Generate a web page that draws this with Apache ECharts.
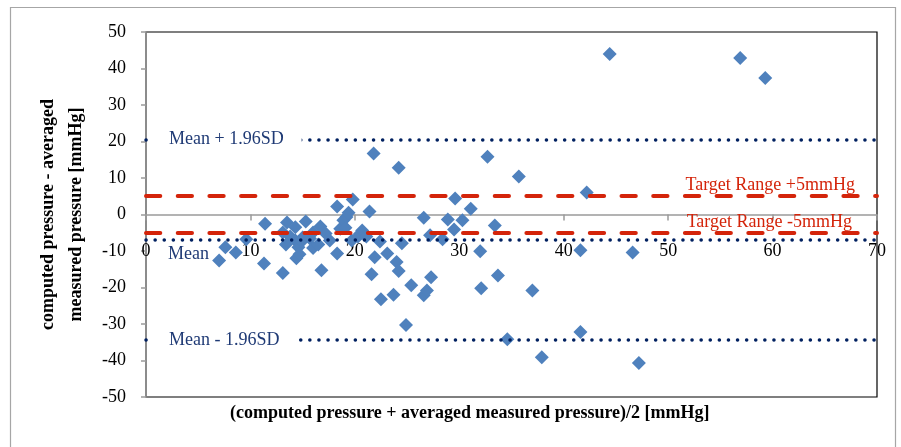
<!DOCTYPE html>
<html>
<head>
<meta charset="utf-8">
<script src="https://cdn.jsdelivr.net/npm/echarts@6/dist/echarts.min.js"></script>
<style>
  html, body { margin: 0; padding: 0; background: #fff; }
  #chart { width: 901px; height: 447px; }
</style>
</head>
<body>
<div id="chart"></div>
<script>
// Bland-Altman data: mean of the two pressures (x) and their difference (y), mmHg
const meanPressure = [
  7.0, 7.6, 8.6, 9.6, 11.4, 11.3, 13.1,
  13.5, 13.1, 13.8, 13.4, 14.3, 14.6, 14.9, 14.4, 14.7, 14.3, 15.3, 15.0, 15.7, 16.0, 16.0, 16.5, 16.7, 16.8, 17.2, 17.6,
  18.3, 18.3, 18.6, 18.9, 19.1, 19.2, 19.4, 19.7, 19.8, 20.3, 20.5, 20.7, 21.1, 21.4, 21.8, 21.6, 21.9, 22.4, 22.5, 23.1, 23.7, 24.0, 24.2, 24.2, 24.5, 24.9, 25.4,
  26.6, 26.6, 26.9, 27.2, 27.3, 28.4, 28.9, 29.5, 29.6, 30.3, 31.1, 32.0, 32.1, 32.7, 33.4, 33.7, 34.6, 35.7, 37.0, 37.9,
  41.6, 41.6, 42.2, 44.4, 46.6, 47.2, 56.9, 59.3
];
const pressureDiff = [
  -12.6, -9.0, -10.4, -6.8, -2.5, -13.4, -16.0,
  -2.2, -4.9, -6.0, -8.2, -7.1, -9.0, -7.4, -12.0, -10.9, -3.5, -1.9, -6.3, -6.6, -4.9, -9.2, -8.2, -3.3, -15.3, -5.2, -7.1,
  2.2, -10.7, -3.9, -1.6, -3.6, -0.7, 0.5, -7.1, 4.1, -6.0, -5.3, -4.4, -6.0, 0.8, 16.7, -16.4, -11.7, -7.4, -23.2, -10.7, -22.0, -13.0, -15.5, 12.8, -7.9, -30.3, -19.4,
  -0.9, -22.1, -20.8, -5.7, -17.2, -6.8, -1.4, -4.1, 4.4, -1.6, 1.6, -10.1, -20.2, 15.8, -3.0, -16.7, -34.2, 10.4, -20.8, -39.1,
  -9.8, -32.2, 6.0, 44.0, -10.4, -40.7, 42.9, 37.4
];

// Reference lines
const meanDiff = -6.9;
const upperLimit = 20.6;
const lowerLimit = -34.4;
const targetUpper = 5;
const targetLower = -5;

// Axis settings
const xMin = 0, xMax = 70, xStep = 10;
const yMin = -50, yMax = 50, yStep = 10;

const points = meanPressure.map((x, i) => [x, pressureDiff[i]]);

const FONT = '"Liberation Serif", "Times New Roman", serif';
const NAVY = '#002060';
const NAVY_TEXT = '#1f3a75';
const RED = '#d4240a';

const GRID = { left: 146, right: 24, top: 32, bottom: 50 };
const PLOT_H = 447 - GRID.top - GRID.bottom;
// the horizontal axis crosses the vertical one at y = 0
const xAxisOffset = -PLOT_H * (0 - yMin) / (yMax - yMin);

const dotted = { color: NAVY, width: 3.5, type: [0.1, 9], cap: 'round' };
const dashed = { color: RED, width: 4, type: [14.3, 17.4], cap: 'round' };

const sdLabel = (text) => ({
  show: true, formatter: text, position: 'insideStart', distance: [7, 0],
  color: NAVY_TEXT, fontFamily: FONT, fontSize: 18,
  backgroundColor: '#fff', padding: [2, 18, 2, 16]
});

const chart = echarts.init(document.getElementById('chart'), null, { renderer: 'canvas' });

chart.setOption({
  animation: false,
  backgroundColor: '#fff',
  grid: Object.assign({}, GRID, {
    show: true, borderColor: '#000', borderWidth: 1.2, backgroundColor: 'transparent'
  }),
  xAxis: {
    type: 'value', min: xMin, max: xMax, interval: xStep,
    position: 'bottom', offset: xAxisOffset,
    axisLine: { onZero: false, lineStyle: { color: '#9a9a9a', width: 1.5 } },
    axisTick: { show: true, inside: false, length: 6, lineStyle: { color: '#9a9a9a', width: 1.5 } },
    axisLabel: { margin: 28, color: '#000', fontFamily: FONT, fontSize: 18 },
    splitLine: { show: false }
  },
  yAxis: {
    type: 'value', min: yMin, max: yMax, interval: yStep,
    axisLine: { show: true, onZero: false, lineStyle: { color: '#9a9a9a', width: 1.5 } },
    axisTick: { show: true, inside: false, length: 5, lineStyle: { color: '#9a9a9a', width: 1.5 } },
    axisLabel: { margin: 20, color: '#000', fontFamily: FONT, fontSize: 18 },
    splitLine: { show: false },
    name: 'computed pressure - averaged\nmeasured pressure [mmHg]',
    nameLocation: 'middle', nameGap: 56, nameRotate: 90, nameMoveOverlap: false,
    nameTextStyle: { color: '#000', fontFamily: FONT, fontSize: 18, fontWeight: 'bold', lineHeight: 28 }
  },
  series: [
    {
      name: 'limits', type: 'line', data: [], z: 1, silent: true,
      markLine: {
        symbol: ['none', 'none'], silent: true, animation: false,
        data: [
          { yAxis: upperLimit, lineStyle: dotted, label: sdLabel('Mean + 1.96SD') },
          { yAxis: lowerLimit, lineStyle: dotted, label: sdLabel('Mean - 1.96SD') },
          { yAxis: meanDiff, lineStyle: dotted,
            label: { show: true, formatter: 'Mean', position: 'insideStartBottom', distance: [22, 6],
                     color: NAVY_TEXT, fontFamily: FONT, fontSize: 18 } },
          { yAxis: targetUpper, lineStyle: dashed,
            label: { show: true, formatter: 'Target Range +5mmHg', position: 'insideEndTop', distance: [22, 2],
                     color: RED, fontFamily: FONT, fontSize: 18 } },
          { yAxis: targetLower, lineStyle: dashed,
            label: { show: true, formatter: 'Target Range -5mmHg', position: 'insideEndTop', distance: [25, 1],
                     color: RED, fontFamily: FONT, fontSize: 18 } }
        ]
      }
    },
    {
      name: 'difference', type: 'scatter', data: points, z: 3,
      symbol: 'diamond', symbolSize: 14,
      itemStyle: { color: '#4f81bd', opacity: 1 }
    }
  ],
  graphic: [
    { type: 'rect', shape: { x: 10.5, y: 7.5, width: 885, height: 450 },
      style: { fill: 'none', stroke: '#a6a6a6', lineWidth: 1.2 }, silent: true, z: 0 },
    { type: 'text', left: 230, top: 404,
      style: { text: '(computed pressure + averaged measured pressure)/2 [mmHg]',
               fill: '#000', font: 'bold 18px ' + FONT } }
  ]
});
</script>
</body>
</html>
